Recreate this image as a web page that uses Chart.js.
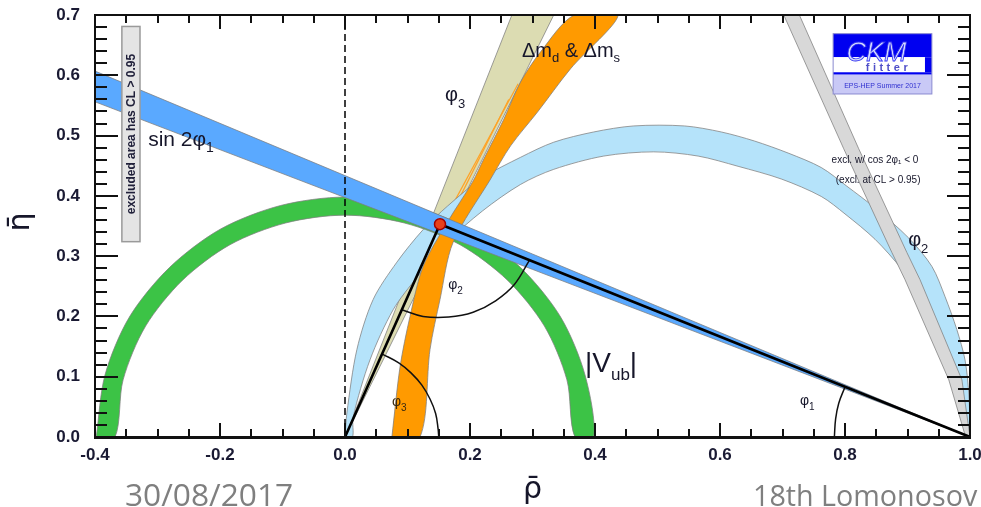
<!DOCTYPE html>
<html>
<head>
<meta charset="utf-8">
<script src="https://cdn.jsdelivr.net/npm/chart.js@4.4.1/dist/chart.umd.min.js"></script>
<style>
  html, body { margin: 0; padding: 0; background: #fff; }
  #wrap { width: 981px; height: 507px; }
</style>
</head>
<body>
<div id="wrap"><canvas id="ckmChart" width="981" height="507"></canvas></div>
<script>
// tick labels
const xMajorTicks = [-0.4, -0.2, 0.0, 0.2, 0.4, 0.6, 0.8, 1.0];
const yMajorTicks = [0.0, 0.1, 0.2, 0.3, 0.4, 0.5, 0.6, 0.7];

// constraint bands, [rho, eta] points
const sin2phi1Band = [[1.0, 0.0], [-0.4, 0.607], [-0.4, 0.556], [1.0, 0.0]];
const phi3Band = [[0.0, 0.0], [0.267, 0.70], [0.334, 0.70], [0.0, 0.0]];

const dmLeftEdge = [[0.075, 0.0], [0.088, 0.116], [0.104, 0.200], [0.125, 0.283], [0.163, 0.355],
  [0.204, 0.423], [0.222, 0.461], [0.254, 0.527], [0.281, 0.589], [0.313, 0.639], [0.367, 0.70]];
const dmRightEdge = [[0.437, 0.70], [0.361, 0.611], [0.308, 0.539], [0.265, 0.483],
  [0.233, 0.428], [0.173, 0.323], [0.152, 0.228], [0.136, 0.145], [0.120, 0.0]];
const dmThinLines = [
  [[0.277, 0.586], [0.157, 0.356]],
  [[0.262, 0.560], [0.185, 0.400]]
];

const alphaOuterEdge = [[0.0, 0.0], [0.003, 0.040], [0.019, 0.145], [0.045, 0.228], [0.083, 0.290],
  [0.125, 0.344], [0.164, 0.383], [0.220, 0.430], [0.281, 0.464], [0.334, 0.489], [0.398, 0.506],
  [0.462, 0.516], [0.543, 0.516], [0.602, 0.506], [0.655, 0.491], [0.709, 0.471], [0.762, 0.447],
  [0.803, 0.416], [0.848, 0.380], [0.902, 0.330], [0.939, 0.283], [0.960, 0.233], [0.979, 0.178],
  [0.992, 0.128], [0.998, 0.073], [1.0, 0.017], [1.0, 0.0]];
const alphaInnerEdge = [[0.997, 0.0], [0.995, 0.017], [0.984, 0.062], [0.971, 0.116], [0.950, 0.173],
  [0.923, 0.228], [0.891, 0.278], [0.848, 0.328], [0.800, 0.370], [0.762, 0.399], [0.698, 0.428],
  [0.629, 0.449], [0.565, 0.466], [0.494, 0.473], [0.414, 0.466], [0.334, 0.444], [0.281, 0.419],
  [0.220, 0.375], [0.160, 0.320], [0.116, 0.266], [0.077, 0.211], [0.040, 0.128], [0.013, 0.033], [0.012, 0.0]];

const vubOuterEdge = [[-0.398, 0.0], [-0.384, 0.103], [-0.345, 0.199], [-0.281, 0.281], [-0.199, 0.345],
  [-0.103, 0.384], [0.0, 0.398], [0.103, 0.384], [0.199, 0.345], [0.281, 0.281], [0.345, 0.199],
  [0.384, 0.103], [0.398, 0.0]];
const vubInnerEdge = [[0.368, 0.0], [0.355, 0.095], [0.319, 0.184], [0.260, 0.260], [0.184, 0.319],
  [0.095, 0.355], [0.0, 0.368], [-0.095, 0.355], [-0.184, 0.319], [-0.260, 0.260], [-0.319, 0.184],
  [-0.355, 0.095], [-0.368, 0.0]];

const cos2phi1LeftEdge = [[0.702, 0.70], [0.798, 0.478], [0.875, 0.306], [0.896, 0.261], [0.966, 0.095], [0.993, 0.0]];
const cos2phi1RightEdge = [[1.0, 0.0], [0.987, 0.095], [0.920, 0.261], [0.899, 0.306], [0.822, 0.478], [0.727, 0.70]];

// unitarity triangle and angle arcs
const apex = [0.152, 0.353];
const triangleSides = [[0.0, 0.0], [0.152, 0.353], [1.0, 0.0]];
const zeroLine = [[0.0, 0.0], [0.0, 0.7]];
const phi3Arc = [[0.059, 0.138], [0.086, 0.123], [0.106, 0.106], [0.123, 0.086], [0.136, 0.063], [0.145, 0.039], [0.149, 0.013], [0.150, 0.0]];
const phi2Arc = [[0.091, 0.211], [0.125, 0.200], [0.166, 0.199], [0.205, 0.207], [0.241, 0.226], [0.271, 0.253], [0.295, 0.293]];
const phi1Arc = [[0.783, 0.0], [0.785, 0.030], [0.790, 0.056], [0.800, 0.083]];

const pts = arr => arr.map(([x, y]) => ({x, y}));

function band(points, color, order, tension) {
  return {
    data: pts(points),
    backgroundColor: color,
    borderColor: 'rgba(125,125,125,0.75)',
    borderWidth: 1,
    fill: 'shape',
    tension: tension || 0,
    clip: 0,
    order: order
  };
}

function stroke(points, color, width, order, extra) {
  return Object.assign({
    data: pts(points),
    borderColor: color,
    borderWidth: width,
    fill: false,
    tension: 0,
    order: order
  }, extra || {});
}

const datasets = [
  band(phi3Band, '#dcdcb2', 20),
  stroke(dmThinLines[0], '#ffa326', 1.2, 19),
  stroke(dmThinLines[1], '#ffa326', 1.2, 19),
  band(alphaOuterEdge.concat(alphaInnerEdge, [alphaOuterEdge[0]]), '#b5e3fa', 18, 0.3),
  band(vubOuterEdge.concat(vubInnerEdge, [vubOuterEdge[0]]), '#3cc346', 17, 0.3),
  band(dmLeftEdge.concat(dmRightEdge, [dmLeftEdge[0]]), '#ff9a00', 16, 0.3),
  band(cos2phi1LeftEdge.concat(cos2phi1RightEdge, [cos2phi1LeftEdge[0]]), '#d8d8d8', 15, 0),
  band(sin2phi1Band, '#5aa9ff', 14, 0),
  stroke(zeroLine, '#000', 1.5, 10, {borderDash: [7, 4]}),
  stroke(phi3Arc, '#111', 1.5, 8, {tension: 0.4}),
  stroke(phi2Arc, '#111', 1.5, 8, {tension: 0.4}),
  stroke(phi1Arc, '#111', 1.5, 8, {tension: 0.4}),
  stroke(triangleSides, '#000', 2.6, 6),
  {
    data: pts([apex]), showLine: false, order: 1,
    pointRadius: 5.5, pointBackgroundColor: '#e8401c', pointBorderColor: '#a00000', pointBorderWidth: 1.5
  }
];

function runs(ctx, parts, x, y, color) {
  ctx.fillStyle = color;
  ctx.textAlign = 'left';
  ctx.textBaseline = 'alphabetic';
  for (const [t, size, dy] of parts) {
    ctx.font = size + 'px "Liberation Sans", Arial, sans-serif';
    ctx.fillText(t, x, y + dy);
    x += ctx.measureText(t).width;
  }
}

function spaced(ctx, t, x, y, gap) {
  for (const ch of t) {
    ctx.fillText(ch, x, y);
    x += ctx.measureText(ch).width + gap;
  }
}

function fitText(ctx, t, x, y, width, family, color) {
  ctx.font = '100px ' + family;
  const size = 100 * width / ctx.measureText(t).width;
  ctx.font = size.toFixed(1) + 'px ' + family;
  ctx.fillStyle = color;
  ctx.textAlign = 'left';
  ctx.textBaseline = 'alphabetic';
  ctx.fillText(t, x, y);
}

const ckmDecor = {
  id: 'ckmDecor',
  afterDraw(chart) {
    const {ctx, chartArea: a, scales} = chart;
    const X = v => scales.x.getPixelForValue(v);
    const Y = v => scales.y.getPixelForValue(v);
    ctx.save();
    ctx.setTransform(1, 0, 0, 1, 0, 0);

    const ink = '#16162a';
    // band labels
    runs(ctx, [['sin 2\u03c6', 21, 0], ['1', 14, 6]], X(-0.315), Y(0.4825), ink);
    runs(ctx, [['\u0394m', 20, 0], ['d', 13, 5], [' & \u0394m', 20, 0], ['s', 13, 5]], X(0.283), Y(0.631), ink);
    runs(ctx, [['\u03c6', 20, 0], ['3', 13, 7]], X(0.160), Y(0.557), ink);
    runs(ctx, [['\u03c6', 20, 0], ['2', 13, 7]], X(0.901), Y(0.316), ink);
    runs(ctx, [['|', 28, 0], ['V', 28, 0], ['ub', 17, 8], ['|', 28, 0]], X(0.384), Y(0.108), ink);
    runs(ctx, [['\u03c6', 14, 0], ['2', 10, 5]], X(0.165), Y(0.245), ink);
    runs(ctx, [['\u03c6', 14, 0], ['3', 10, 5]], X(0.075), Y(0.052), '#3a2a10');
    runs(ctx, [['\u03c6', 14, 0], ['1', 10, 5]], X(0.728), Y(0.053), ink);

    ctx.font = '10px "Liberation Sans", Arial, sans-serif';
    ctx.textAlign = 'center';
    ctx.fillStyle = ink;
    ctx.fillText('excl. w/ cos 2\u03c6\u2081 < 0', X(0.848), Y(0.454));
    ctx.fillText('(excl. at CL > 0.95)', X(0.853), Y(0.421));

    // rotated note box
    const bx0 = X(-0.357), bx1 = X(-0.328), by0 = Y(0.681), by1 = Y(0.324);
    ctx.fillStyle = '#e4e4e4';
    ctx.fillRect(bx0, by0, bx1 - bx0, by1 - by0);
    ctx.strokeStyle = '#9a9a9a';
    ctx.lineWidth = 1.5;
    ctx.strokeRect(bx0, by0, bx1 - bx0, by1 - by0);
    ctx.save();
    ctx.translate((bx0 + bx1) / 2, (by0 + by1) / 2);
    ctx.rotate(-Math.PI / 2);
    ctx.font = 'bold 12px "Liberation Sans", Arial, sans-serif';
    ctx.textAlign = 'center';
    ctx.textBaseline = 'middle';
    ctx.fillStyle = '#20203a';
    ctx.fillText('excluded area has CL > 0.95', 0, 1);
    ctx.restore();

    // CKMfitter logo
    const lx0 = X(0.781), lx1 = X(0.939), ly0 = Y(0.669), ly1 = Y(0.569);
    const lw = lx1 - lx0, lh = ly1 - ly0;
    ctx.fillStyle = '#0000f0';
    ctx.fillRect(lx0, ly0, lw, lh * 0.39);
    ctx.fillStyle = '#ffffff';
    ctx.fillRect(lx0, ly0 + lh * 0.39, lw, lh * 0.25);
    ctx.fillStyle = '#0000f0';
    ctx.fillRect(lx0 + lw * 0.93, ly0 + lh * 0.39, lw * 0.07, lh * 0.25);
    ctx.fillRect(lx0, ly0 + lh * 0.64, lw, lh * 0.04);
    ctx.fillStyle = '#c9c9f6';
    ctx.fillRect(lx0, ly0 + lh * 0.68, lw, lh * 0.32);
    ctx.strokeStyle = '#8a8ad0';
    ctx.lineWidth = 1;
    ctx.strokeRect(lx0, ly0, lw, lh);
    ctx.font = 'italic 27px "Liberation Sans", Arial, sans-serif';
    ctx.textAlign = 'center';
    ctx.textBaseline = 'alphabetic';
    ctx.fillStyle = '#d4dcff';
    ctx.strokeStyle = '#3030f0';
    ctx.lineWidth = 0.8;
    ctx.fillText('CKM', lx0 + lw * 0.44, ly0 + lh * 0.46);
    ctx.strokeText('CKM', lx0 + lw * 0.44, ly0 + lh * 0.46);
    ctx.font = 'bold 11px "Liberation Sans", Arial, sans-serif';
    ctx.textAlign = 'left';
    ctx.fillStyle = '#5050c8';
    spaced(ctx, 'fitter', lx0 + lw * 0.33, ly0 + lh * 0.62, 3.5);
    ctx.textAlign = 'center';
    ctx.font = '7px "Liberation Sans", Arial, sans-serif';
    ctx.fillStyle = '#3030d0';
    ctx.fillText('EPS-HEP Summer 2017', lx0 + lw / 2, ly0 + lh * 0.9);

    // axis titles
    ctx.fillStyle = '#16162a';
    ctx.font = '30px "DejaVu Sans", sans-serif';
    ctx.textAlign = 'center';
    ctx.textBaseline = 'middle';
    ctx.save();
    ctx.translate(21, 222);
    ctx.rotate(-Math.PI / 2);
    ctx.fillText('\u03b7\u0304', 0, 0);
    ctx.restore();
    ctx.fillText('\u03c1\u0304', (a.left + a.right) / 2, 490);

    // slide footer
    fitText(ctx, '30/08/2017', 125, 506, 168, '"Open Sans", sans-serif', '#7f7f7f');
    fitText(ctx, '18th Lomonosov', 753, 506, 224, '"Open Sans", sans-serif', '#7f7f7f');

    // keep the strip above the frame clean
    ctx.globalAlpha = 1;
    ctx.globalCompositeOperation = 'source-over';
    ctx.fillStyle = '#ffffff';
    ctx.fillRect(a.left - 2, 0, a.right - a.left + 4, a.top - 1);

    // frame and inside tick marks, ROOT style
    ctx.fillStyle = '#111111';
    for (let i = 0; i <= 28; i++) {
      const p = Math.round(X(-0.4 + i * 0.05));
      const len = i % 4 === 0 ? 14 : 8;
      ctx.fillRect(p - 1, a.bottom - len, 2, len);
      ctx.fillRect(p - 1, a.top, 2, len);
    }
    for (let i = 0; i <= 35; i++) {
      const p = Math.round(Y(i * 0.02));
      const len = i % 5 === 0 ? 23 : 12;
      ctx.fillRect(a.left, p - 1, len, 2);
      ctx.fillRect(a.right - len, p - 1, len, 2);
    }
    ctx.fillRect(a.left - 1, a.top - 1, a.right - a.left + 2, 2);
    ctx.fillRect(a.left - 1, a.bottom - 1, a.right - a.left + 2, 3);
    ctx.fillRect(a.left - 1, a.top - 1, 2, a.bottom - a.top + 2);
    ctx.fillRect(a.right - 1, a.top - 1, 2, a.bottom - a.top + 2);
    ctx.restore();
  }
};

new Chart(document.getElementById('ckmChart').getContext('2d'), {
  type: 'line',
  data: { datasets: datasets },
  options: {
    responsive: false,
    animation: false,
    events: [],
    layout: { padding: { top: 15, right: 11, left: 0, bottom: 0 } },
    elements: { point: { radius: 0 } },
    plugins: { legend: { display: false }, tooltip: { enabled: false } },
    scales: {
      x: {
        type: 'linear', min: -0.4, max: 1.0,
        grid: { display: false, drawTicks: false },
        border: { display: false },
        afterBuildTicks: s => { s.ticks = xMajorTicks.map(v => ({ value: v })); },
        afterFit: s => { s.height = 70; s.paddingLeft = 0; s.paddingRight = 0; },
        ticks: {
          autoSkip: false, maxRotation: 0, padding: 8, color: '#1a1a33',
          font: { family: '"Liberation Sans", Arial, sans-serif', size: 17, weight: 'bold' },
          callback: v => v.toFixed(1)
        }
      },
      y: {
        type: 'linear', min: 0, max: 0.7,
        grid: { display: false, drawTicks: false },
        border: { display: false },
        afterBuildTicks: s => { s.ticks = yMajorTicks.map(v => ({ value: v })); },
        afterFit: s => { s.width = 95; s.paddingTop = 0; s.paddingBottom = 0; },
        ticks: {
          autoSkip: false, padding: 15, color: '#1a1a33',
          font: { family: '"Liberation Sans", Arial, sans-serif', size: 17, weight: 'bold' },
          callback: v => v.toFixed(1)
        }
      }
    }
  },
  plugins: [ckmDecor]
});
</script>
</body>
</html>
